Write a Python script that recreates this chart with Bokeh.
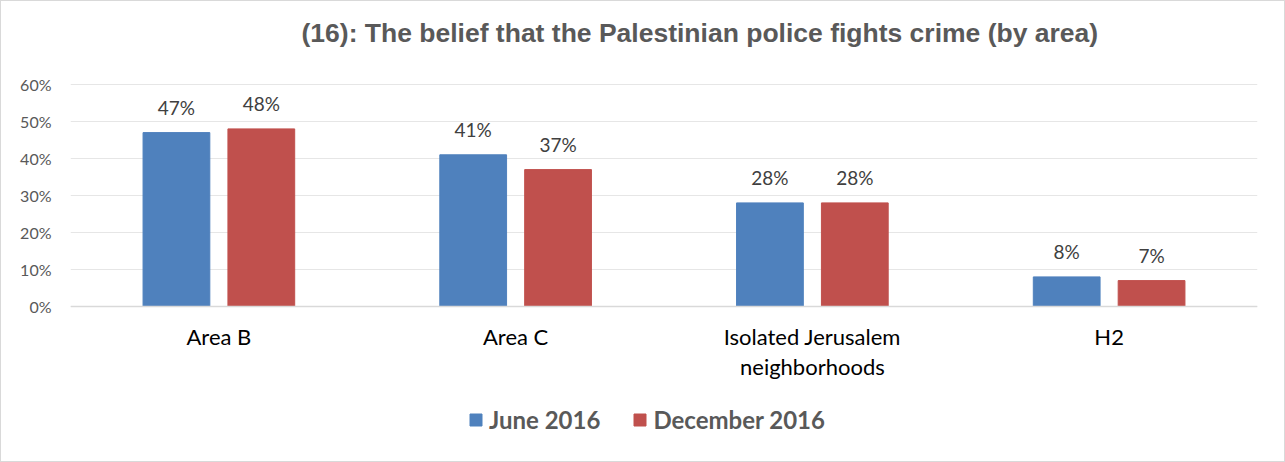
from bokeh.plotting import figure
from bokeh.models import (FactorRange, Range1d, ColumnDataSource, LabelSet, Label, Legend,
                          LegendItem, NumeralTickFormatter, Span)
from bokeh.core.properties import value
from bokeh.transform import dodge
from bokeh.embed import file_html
from bokeh.resources import INLINE

categories = ["Area B", "Area C", "Isolated Jerusalem\nneighborhoods", "H2"]
june_2016 = [0.47, 0.41, 0.28, 0.08]
december_2016 = [0.48, 0.37, 0.28, 0.07]
series_names = ["June 2016", "December 2016"]
y_ticks = [0, 0.1, 0.2, 0.3, 0.4, 0.5, 0.6]
title_text = "(16): The belief that the Palestinian police fights crime (by area)"

BLUE = "#4F81BD"
RED = "#C0504D"

lines = [c.split("\n") for c in categories]
src = ColumnDataSource(dict(
    cat=categories,
    june=june_2016,
    dec=december_2016,
    base=[0] * len(categories),
    line1=[l[0] for l in lines],
    line2=[l[1] if len(l) > 1 else "" for l in lines],
    june_lbl=[f"{round(v*100)}%" for v in june_2016],
    dec_lbl=[f"{round(v*100)}%" for v in december_2016],
))

# frame covers the whole inner canvas; the value axis spans 0..60% over 222px
PX_PER_UNIT = 370.0
y_lo = -(155.0 / PX_PER_UNIT)
y_hi = 0.6 + 83.0 / PX_PER_UNIT

p = figure(x_range=FactorRange(*categories, range_padding=0), y_range=Range1d(y_lo, y_hi),
           frame_width=1187, frame_height=460, output_backend="svg", toolbar_location=None,
           min_border_left=69, min_border_right=27, min_border_top=0, min_border_bottom=0)
p.x_range.range_padding = 0
p.styles = {"border": "1px solid #D9D9D9"}

off = 0.143
w = 0.225
r1 = p.vbar(x=dodge("cat", -off, range=p.x_range), top="june", width=w, source=src,
            fill_color=BLUE, line_color=BLUE)
r2 = p.vbar(x=dodge("cat", off, range=p.x_range), top="dec", width=w, source=src,
            fill_color=RED, line_color=RED)

for xo, col, lbl in [(-off, "june", "june_lbl"), (off, "dec", "dec_lbl")]:
    p.add_layout(LabelSet(x=dodge("cat", xo, range=p.x_range), y=col, text=lbl, source=src,
                          text_align="center", text_baseline="middle", y_offset=25,
                          text_font=value("Lato"), text_font_size=value("19px"),
                          text_color="#404040"))

# category labels under the baseline (two centred lines)
for field, yo in [("line1", -30), ("line2", -60)]:
    p.add_layout(LabelSet(x="cat", y="base", text=field, source=src,
                          text_align="center", text_baseline="middle", y_offset=yo,
                          text_font=value("Lato"), text_font_size=value("22px"),
                          text_color="#000000"))

p.add_layout(Span(location=0, dimension="width", line_color="#D9D9D9", line_width=1.5))

p.add_layout(Label(x=231, y=429, x_units="screen", y_units="screen", text=title_text,
                   text_align="left", text_baseline="middle",
                   text_font="Liberation Sans", text_font_size="26.5px",
                   text_font_style="bold", text_color="#595959"))

p.xaxis.visible = False
p.yaxis.formatter = NumeralTickFormatter(format="0%")
p.yaxis.ticker = y_ticks
p.yaxis.axis_line_color = None
p.yaxis.major_tick_line_color = None
p.yaxis.minor_tick_line_color = None
p.yaxis.major_label_text_font = "Lato"
p.yaxis.major_label_text_font_size = "16px"
p.yaxis.major_label_text_color = "#595959"
p.yaxis.major_label_standoff = 13

p.xgrid.grid_line_color = None
p.ygrid.grid_line_color = "#E6E6E6"
p.ygrid.ticker = y_ticks
p.outline_line_color = None

legend = Legend(items=[LegendItem(label=series_names[0], renderers=[r1]),
                       LegendItem(label=series_names[1], renderers=[r2])],
                orientation="horizontal", location=(398, 27),
                label_text_font="Lato", label_text_font_size="24px",
                label_text_font_style="bold", label_text_color="#595959",
                glyph_width=15, glyph_height=15, spacing=32, label_standoff=6,
                border_line_color=None, background_fill_color=None, margin=0, padding=6)
p.add_layout(legend, "center")

open("out.html", "w").write(file_html(p, INLINE))
